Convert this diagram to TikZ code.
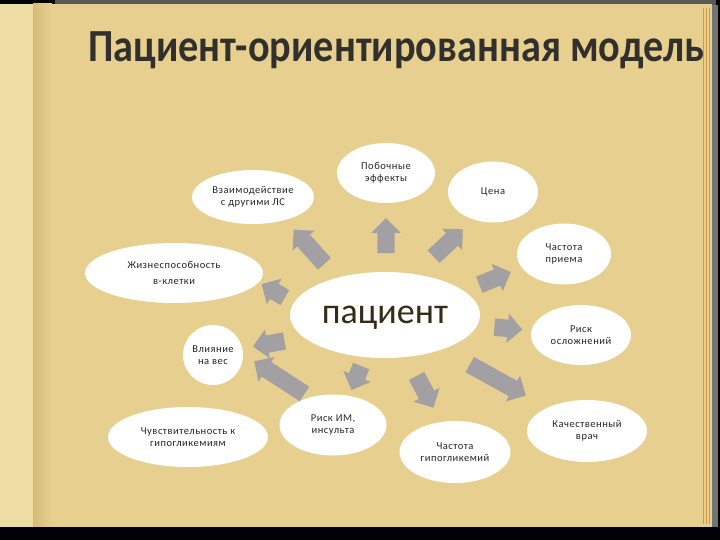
\documentclass[tikz,border=0pt]{standalone}
\usepackage{fontspec}
\setmainfont{Carlito}
\newfontfamily\titlefont[FakeStretch=0.875]{Carlito}
\newfontfamily\bubblefont[LetterSpace=5]{Carlito}
\usetikzlibrary{shapes.geometric,shapes.arrows}
\definecolor{pagecol}{RGB}{231,207,143}
\definecolor{leftcol}{RGB}{238,220,165}
\definecolor{bandcol}{RGB}{214,188,120}
\definecolor{arrowgray}{RGB}{163,160,163}
\definecolor{titlecol}{RGB}{50,48,44}
\definecolor{patcol}{RGB}{52,44,22}
\definecolor{edgecol}{RGB}{214,150,60}
\tikzset{
  bubble/.style={ellipse, fill=white, draw=none, inner sep=0pt, align=center,
    font=\bubblefont\fontsize{10.5}{12.5}\selectfont, text=black!85},
  blockarrow/.style={single arrow, fill=arrowgray, draw=none, inner xsep=0pt,
    inner ysep=8.5pt, single arrow head extend=6pt, single arrow tip angle=90,
    minimum height=#1},
}
\begin{document}
\begin{tikzpicture}[x=1pt,y=-1pt]
\useasboundingbox (0,0) rectangle (720,540);
% book background
\fill[black] (0,0) rectangle (720,540);
\fill[black!65] (55,0) rectangle (716,5);
\fill[black!55] (712,5) rectangle (718,530);
\fill[pagecol] (0,4) rectangle (712,527);
\fill[leftcol] (0,4) rectangle (33,527);
\shade[left color=bandcol, right color=pagecol] (33,4) rectangle (52,527);
\foreach \xx in {703,706,709}
  \draw[edgecol, line width=0.6pt] (\xx,8) -- (\xx,524);
\fill[black!80!blue!30!black] (0,527) rectangle (720,540);
\fill[black] (0,533) rectangle (720,540);
% title
\node[anchor=base west, inner sep=0pt, text=titlecol,
  font=\titlefont\fontsize{46}{50}\bfseries\selectfont] (title) at (88,62) {Пациент-ориентированная модель};
% bubbles
\node[bubble, minimum width=122pt, minimum height=54pt] (vz) at (253,197) {Взаимодействие\\с другими ЛС};
\node[bubble, minimum width=98pt, minimum height=60pt] (pob) at (386,173) {Побочные\\эффекты};
\node[bubble, minimum width=90pt, minimum height=61pt] (cena) at (493,192) {Цена};
\node[bubble, minimum width=94pt, minimum height=61pt] (chpr) at (564,254) {Частота\\приема};
\node[bubble, minimum width=178pt, minimum height=60pt] (zhiz) at (174,273) {Жизнеспособность\\[4pt]в-клетки};
\node[bubble, minimum width=190pt, minimum height=86pt, text=patcol, text height=16pt, text depth=0pt,
  font=\fontsize{36}{40}\selectfont] (pat) at (385,315) {пациент};
\node[bubble, minimum width=100pt, minimum height=60pt] (risk) at (581,335) {Риск\\осложнений};
\node[bubble, minimum width=60pt, minimum height=60pt] (vliy) at (213,355) {Влияние\\на вес};
\node[bubble, minimum width=160pt, minimum height=60pt] (chuv) at (188,437) {Чувствительность к\\гипогликемиям};
\node[bubble, minimum width=107pt, minimum height=61pt] (riskim) at (333,425) {Риск ИМ,\\инсульта};
\node[bubble, minimum width=111pt, minimum height=62pt] (chg) at (455,452) {Частота\\гипогликемий};
\node[bubble, minimum width=120pt, minimum height=62pt] (kach) at (587,431) {Качественный\\врач};
% block arrows
\node[blockarrow=46pt, rotate=132] (a1) at (312,250) {};
\node[blockarrow=35pt, rotate=90] (a2) at (386,240) {};
\node[blockarrow=40pt, rotate=43] (a3) at (445,246) {};
\node[blockarrow=34pt, rotate=22] (a4) at (491,280) {};
\node[blockarrow=28pt, rotate=-5] (a5) at (504,328) {};
\node[blockarrow=64pt, rotate=-29] (a6) at (494,378) {};
\node[blockarrow=36pt, rotate=-62] (a7) at (423,388) {};
\node[blockarrow=26pt, rotate=-112] (a8) at (358,374) {};
\node[blockarrow=60pt, rotate=147] (a9) at (283,380) {};
\node[blockarrow=32pt, rotate=190] (a10) at (273,343) {};
\node[blockarrow=27pt, rotate=150] (a11) at (277,293) {};
\end{tikzpicture}
\end{document}
